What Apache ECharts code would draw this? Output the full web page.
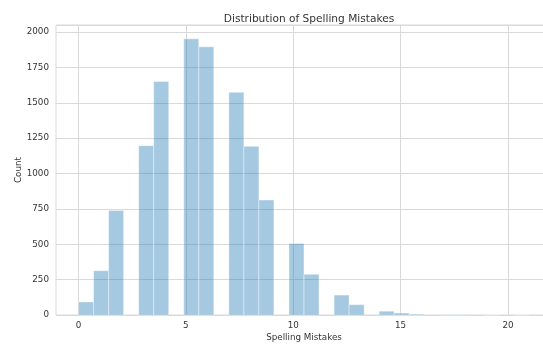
<!DOCTYPE html>
<html>
<head>
<meta charset="utf-8">
<script src="https://cdn.jsdelivr.net/npm/echarts@6/dist/echarts.min.js"></script>
<style>
  html, body { margin: 0; padding: 0; background: #fff; }
  #chart { width: 543px; height: 347px; }
</style>
</head>
<body>
<div id="chart"></div>
<script>
// Histogram of spelling mistakes: 30 equal bins over [0, 21]
const binStart = 0;
const binWidth = 0.7;
const binCounts = [
  92, 313, 739, 0, 1197, 1650, 0, 1952, 1895, 0,
  1574, 1192, 813, 0, 506, 288, 0, 141, 73, 0,
  27, 14, 6, 0, 3, 3, 0, 1, 0, 1
];
const xTicks = [0, 5, 10, 15, 20];
const yTickStep = 250;

const bars = [];
binCounts.forEach((c, i) => {
  if (c > 0) {
    const lo = binStart + i * binWidth;
    bars.push([lo, lo + binWidth, c]);
  }
});

const dataMax = binStart + binCounts.length * binWidth;
const xPad = (dataMax - binStart) * 0.05;
const yMax = Math.max(...binCounts) * 1.05;

const textColor = '#333333';
const gridColor = '#d9d9d9';
const font = 'DejaVu Sans';

const chart = echarts.init(document.getElementById('chart'), null, { renderer: 'canvas' });
chart.setOption({
  animation: false,
  backgroundColor: '#ffffff',
  title: {
    text: 'Distribution of Spelling Mistakes',
    left: 304, top: 9, textAlign: 'center',
    textStyle: { fontFamily: font, fontSize: 10.6, fontWeight: 'normal', color: textColor }
  },
  grid: {
    left: 56, top: 25, width: 496, height: 290,
    containLabel: false, outerBoundsMode: 'none',
    show: true, borderColor: gridColor, borderWidth: 1, backgroundColor: 'transparent'
  },
  xAxis: {
    type: 'value',
    min: binStart - xPad, max: dataMax + xPad,
    name: 'Spelling Mistakes', nameLocation: 'middle', nameGap: 18, nameMoveOverlap: false,
    nameTextStyle: { fontFamily: font, fontSize: 8.75, color: textColor },
    axisLine: { show: false },
    axisTick: { show: false, customValues: xTicks },
    axisLabel: { customValues: xTicks, margin: 6, fontFamily: font, fontSize: 8.75, color: textColor },
    splitLine: { show: true, lineStyle: { color: gridColor, width: 1 } }
  },
  yAxis: {
    type: 'value',
    min: 0, max: yMax, interval: yTickStep,
    name: 'Count', nameLocation: 'middle', nameGap: 33, nameMoveOverlap: false,
    nameTextStyle: { fontFamily: font, fontSize: 8.75, color: textColor },
    axisLine: { show: false },
    axisTick: { show: false },
    axisLabel: {
      showMaxLabel: false, margin: 7, fontFamily: font, fontSize: 8.75, color: textColor,
      formatter: v => String(v)
    },
    splitLine: { show: true, lineStyle: { color: gridColor, width: 1 } }
  },
  series: [{
    type: 'custom',
    data: bars,
    encode: { x: [0, 1], y: 2 },
    renderItem: function (params, api) {
      const top = api.coord([api.value(0), api.value(2)]);
      const bottom = api.coord([api.value(1), 0]);
      return {
        type: 'rect',
        shape: { x: top[0], y: top[1], width: bottom[0] - top[0], height: bottom[1] - top[1] },
        style: { fill: '#1f77b4', stroke: '#ffffff', lineWidth: 1, opacity: 0.4 }
      };
    }
  }]
});
</script>
</body>
</html>
